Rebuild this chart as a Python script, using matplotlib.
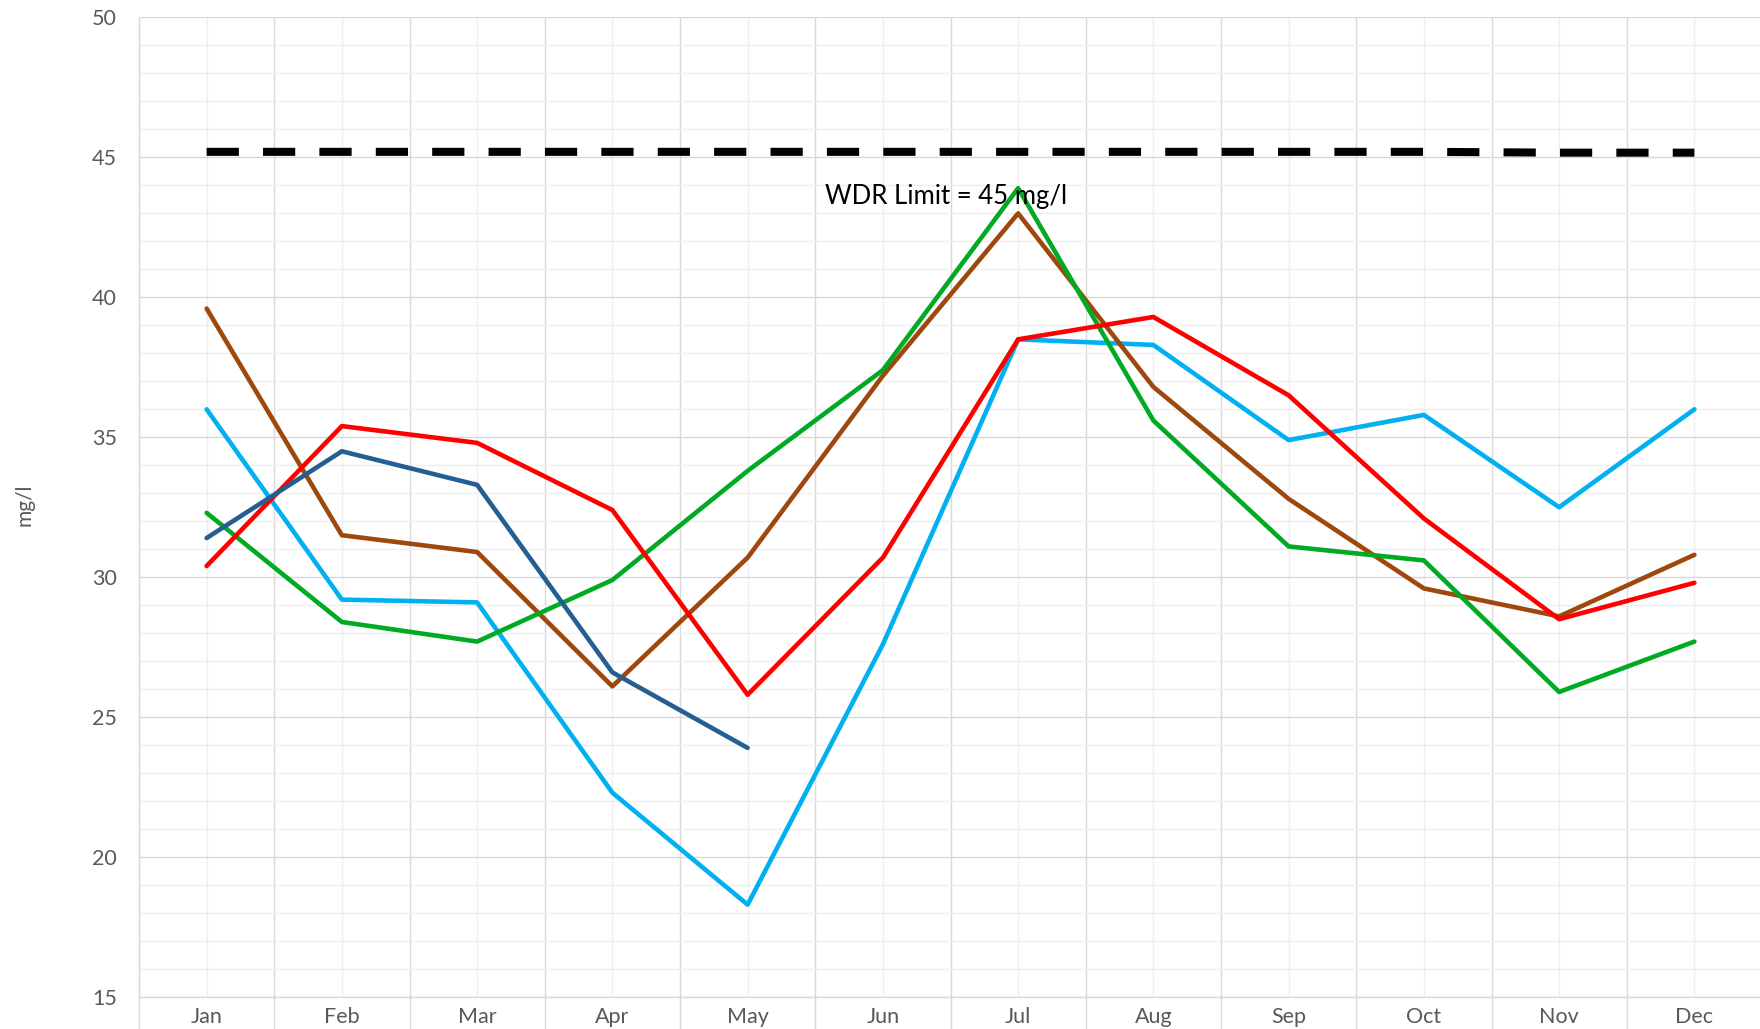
import matplotlib
matplotlib.use("Agg")
import matplotlib.pyplot as plt
import numpy as np

months = ["Jan", "Feb", "Mar", "Apr", "May", "Jun", "Jul", "Aug", "Sep", "Oct", "Nov", "Dec"]
light_blue = [36.0, 29.2, 29.1, 22.3, 18.3, 27.6, 38.5, 38.3, 34.9, 35.8, 32.5, 36.0]
brown = [39.6, 31.5, 30.9, 26.1, 30.7, 37.2, 43.0, 36.8, 32.8, 29.6, 28.6, 30.8]
green = [32.3, 28.4, 27.7, 29.9, 33.8, 37.4, 43.9, 35.6, 31.1, 30.6, 25.9, 27.7]
red = [30.4, 35.4, 34.8, 32.4, 25.8, 30.7, 38.5, 39.3, 36.5, 32.1, 28.5, 29.8]
dark_blue = [31.4, 34.5, 33.3, 26.6, 23.9]
wdr_limit = [45.2, 45.2, 45.2, 45.2, 45.2, 45.2, 45.2, 45.2, 45.2, 45.2, 45.17, 45.17]
limit_label = "WDR Limit = 45 mg/l"

plt.rcParams['font.family'] = ['Lato', 'DejaVu Sans']

fig = plt.figure(figsize=(17.6, 10.29), dpi=100)
ax = fig.add_axes([139 / 1760, 1 - 997 / 1029, 1623 / 1760, (997 - 17.5) / 1029])

x = np.arange(len(months))
lw = 3.3
ax.plot(x, light_blue, color='#00b0f0', lw=lw, zorder=3, solid_capstyle='round')
ax.plot(x, brown, color='#9e480e', lw=lw, zorder=4, solid_capstyle='round')
ax.plot(x, green, color='#00aa22', lw=lw, zorder=5, solid_capstyle='round')
ax.plot(x, red, color='#ff0000', lw=lw, zorder=6, solid_capstyle='round')
ax.plot(np.arange(len(dark_blue)), dark_blue, color='#255e91', lw=lw, zorder=7, solid_capstyle='round')
ln, = ax.plot(x, wdr_limit, color='black', lw=5.8, zorder=8, solid_capstyle='butt', dash_capstyle='butt')
ln.set_dashes([4.0, 3.0])

ax.text(5.464, 43.6, limit_label, ha='center', va='center', fontsize=18.5, color='black', zorder=9)

ax.set_xlim(-0.5, 11.5)
ax.set_ylim(15, 50)

ax.set_xticks(np.arange(-0.5, 12, 1.0))
ax.set_xticklabels([])
ax.set_xticks(x, minor=True)
ax.set_xticklabels(months, minor=True)
ax.tick_params(axis='x', which='major', length=25, width=1.0, color='#d9d9d9', direction='out')
ax.tick_params(axis='x', which='minor', length=0, pad=7, labelsize=15.5, labelcolor='#595959')

ax.set_yticks(np.arange(15, 51, 5))
ax.set_yticks(np.arange(15, 51, 1), minor=True)
ax.tick_params(axis='y', which='both', length=0, pad=16, labelsize=15.5, labelcolor='#595959')

ax.grid(which='major', axis='both', color='#d9d9d9', lw=1.0, zorder=0)
ax.grid(which='minor', axis='both', color='#efefef', lw=1.0, zorder=0)
ax.set_axisbelow(True)

for s in ['top', 'right']:
    ax.spines[s].set_visible(False)
for s in ['left', 'bottom']:
    ax.spines[s].set_color('#d9d9d9')
    ax.spines[s].set_linewidth(1.0)

fig.text(25 / 1760, 1 - 505 / 1029, "mg/l", rotation=90, ha='center', va='center', fontsize=15, color='#595959')

fig.savefig("out.png", dpi=100)
